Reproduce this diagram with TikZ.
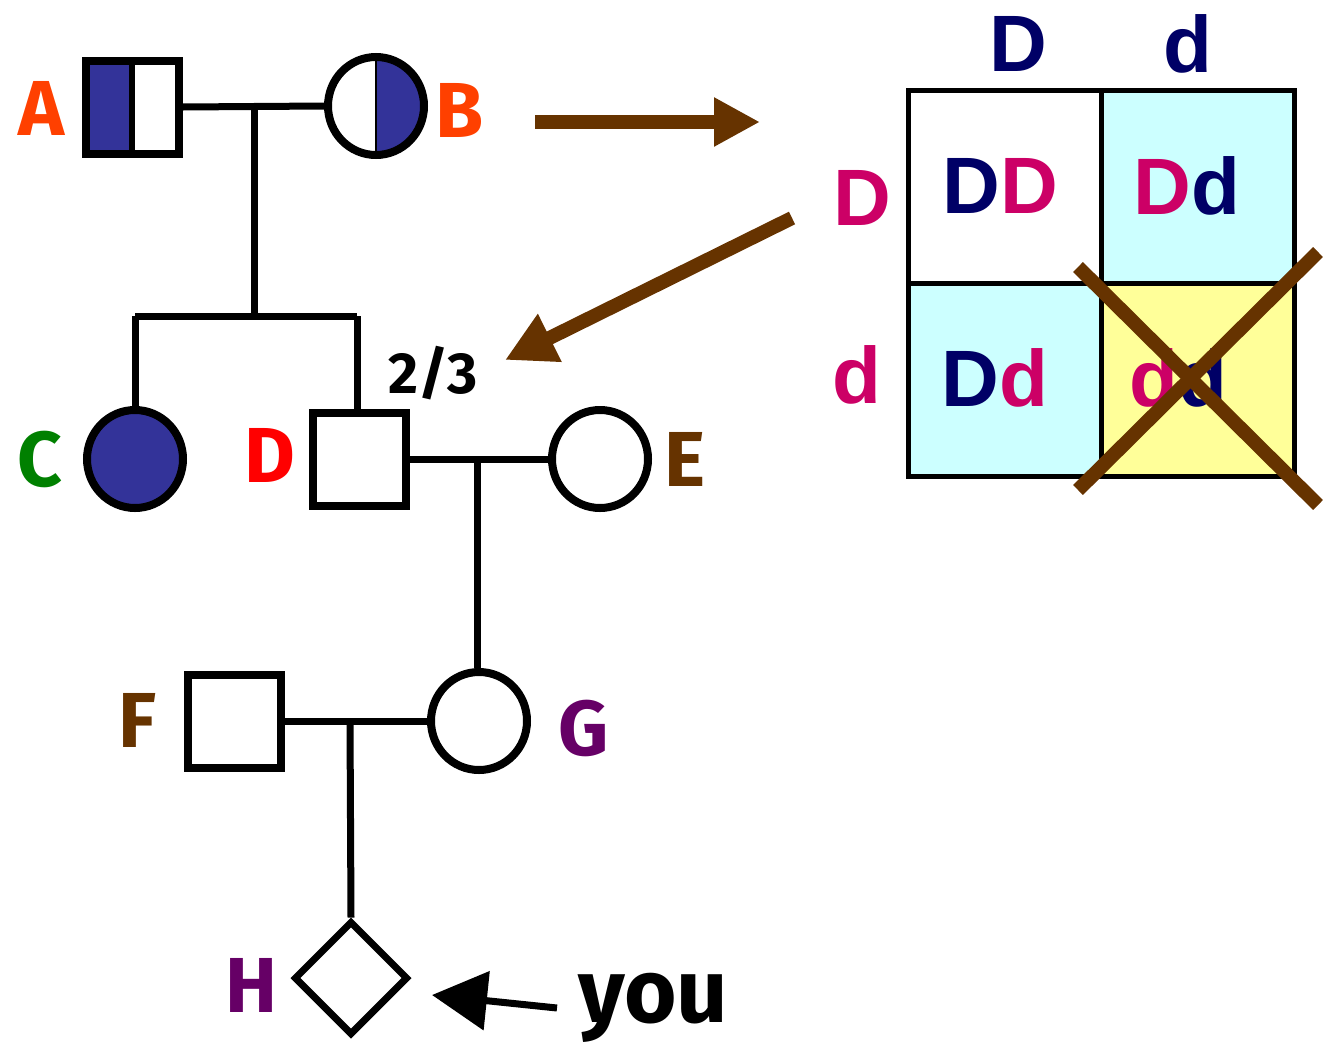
\documentclass[tikz,border=0pt]{standalone}
\usepackage{fontspec}
\setmainfont{Liberation Sans}
\newfontfamily\labfont{Fira Sans}
\usetikzlibrary{arrows.meta,shapes.geometric}
\definecolor{pblue}{HTML}{333399}
\definecolor{navy}{HTML}{000066}
\definecolor{mag}{HTML}{CC0066}
\definecolor{brn}{HTML}{663300}
\definecolor{cyanc}{HTML}{CCFFFF}
\definecolor{yelc}{HTML}{FFFF99}
\definecolor{orng}{HTML}{FF4000}
\definecolor{grn}{HTML}{008000}
\definecolor{purp}{HTML}{660066}
\tikzset{
  person/.style={draw=black, line width=8pt, fill=white, inner sep=0pt},
  male/.style={person, rectangle, minimum size=93pt},
  female/.style={person, ellipse, minimum width=96pt, minimum height=98pt},
  conn/.style={line width=7pt, black},
  lab/.style={inner sep=0pt, font=\labfont\bfseries\fontsize{78}{78}\selectfont},
  pun/.style={inner sep=0pt, font=\bfseries\fontsize{80}{80}\selectfont},
  cell/.style={draw=black, line width=5pt, minimum size=193pt, inner sep=0pt},
  brnarrow/.style={draw=brn, line width=14pt, -{Triangle[length=46pt,width=46pt]}},
}
\begin{document}
\begin{tikzpicture}[x=1pt,y=-1pt]
\useasboundingbox (0,0) rectangle (1325,1053);
% generation 1
\node[male, path picture={\fill[pblue] (path picture bounding box.south west) rectangle (path picture bounding box.north);\draw[line width=6pt] (path picture bounding box.south) -- (path picture bounding box.north);}] (A) at (132,107) {};
\node[female, path picture={\fill[pblue] (path picture bounding box.south east) rectangle (path picture bounding box.north);\draw[line width=2pt] (path picture bounding box.south) -- (path picture bounding box.north);}] (B) at (376,106) {};
\node[lab, text=orng] (lA) at (42,108) {A};
\node[lab, text=orng] (lB) at (460,110) {B};
\coordinate (ab) at (254,106);
\coordinate (sib) at (254,316);
\draw[conn] (A.east) -- (B.west);
\draw[conn] (ab) -- (sib);
% generation 2
\node[female, fill=pblue] (C) at (135,459) {};
\node[male] (D) at (359,459) {};
\node[female] (E) at (600,459) {};
\node[lab, text=grn] (lC) at (40,459) {C};
\node[lab, text=red] (lD) at (270,455) {D};
\node[lab, text=brn] (lE) at (685,459) {E};
\coordinate (sC) at (135,316);
\coordinate (sD) at (357,316);
\draw[conn] (sC) -- (sD);
\draw[conn] (sC) -- (C.north);
\draw[conn] (sD) -- (sD |- D.north);
\node[inner sep=0pt, font=\labfont\bfseries\fontsize{58}{58}\selectfont] (frac) at (433,373) {2/3};
\draw[conn] (D.east) -- (E.west);
\coordinate (de) at (477,459);
% generation 3
\node[female] (G) at (479,721) {};
\node[male] (F) at (234,721) {};
\node[lab, text=brn] (lF) at (137,720) {F};
\node[lab, text=purp] (lG) at (584,728) {G};
\draw[conn] (de) -- (de |- G.north);
\draw[conn] (F.east) -- (G.west);
\coordinate (fg) at (350,721);
% generation 4
\node[person, diamond, minimum width=114pt, minimum height=114pt, line width=7pt] (H) at (351,978) {};
\node[lab, text=purp] (lH) at (251,985) {H};
\draw[conn] (fg) -- (H.north);
\node[inner sep=0pt, font=\labfont\bfseries\fontsize{90}{90}\selectfont, anchor=base] (you) at (653,1022) {you};
\coordinate (youtail) at (557,1008);
\coordinate (youtip) at (432,995);
\draw[line width=7pt, -{Triangle[length=55pt,width=58pt]}] (youtail) -- (youtip);
% Punnett square
\node[cell, fill=white] (c11) at (1004.5,186.5) {};
\node[cell, fill=cyanc] (c12) at (1197.5,186.5) {};
\node[cell, fill=cyanc] (c21) at (1004.5,379.5) {};
\node[cell, fill=yelc] (c22) at (1197.5,379.5) {};
\node[pun, text=navy] (hD) at (1018,44) {D};
\node[pun, text=navy] (hd) at (1188,44) {d};
\node[pun, text=mag] (rD) at (862,198) {D};
\node[pun, text=mag] (rd) at (857,375) {d};
\node[pun] (t11) at (1000,186) {\textcolor{navy}{D}\textcolor{mag}{D}};
\node[pun] (t12) at (1187,186) {\textcolor{mag}{D}\textcolor{navy}{d}};
\node[pun] (t21) at (995,378) {\textcolor{navy}{D}\textcolor{mag}{d}};
\node[pun] (t22) at (1178,378) {\textcolor{mag}{d}\textcolor{navy}{d}};
\coordinate (x1a) at (1078,490);
\coordinate (x1b) at (1318,252);
\coordinate (x2a) at (1078,267);
\coordinate (x2b) at (1318,505);
\draw[brn, line width=14pt] (x1a) -- (x1b);
\draw[brn, line width=14pt] (x2a) -- (x2b);
% brown arrows
\coordinate (a1s) at (535,122);
\coordinate (a1e) at (760,122);
\draw[brnarrow] (a1s) -- (a1e);
\coordinate (a2s) at (792,218);
\coordinate (a2e) at (505,360);
\draw[brnarrow, -{Triangle[length=50pt,width=50pt]}] (a2s) -- (a2e);
\end{tikzpicture}
\end{document}
